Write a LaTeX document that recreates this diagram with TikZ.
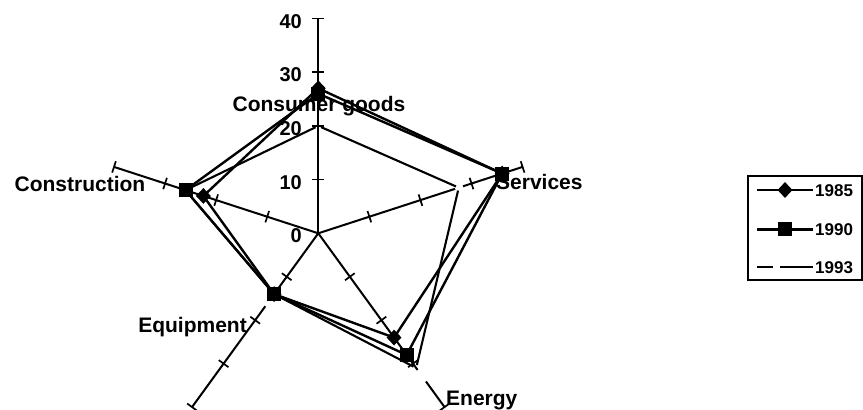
\documentclass[tikz,border=0pt]{standalone}
\usepackage{fontspec}
\setmainfont{Liberation Sans}
\usetikzlibrary{calc,shapes.geometric}
\begin{document}
\begin{tikzpicture}[x=1pt,y=1pt,
  axis/.style={line width=2pt},
  tickmark/.style={line width=1.7pt},
  series/.style={line width=2.4pt, line join=miter},
  seriesc/.style={line width=2.1pt, shorten <=3pt, shorten >=3pt},
  gap/.style={white, line width=5pt},
  dmark/.style={diamond, fill=black, inner sep=0pt, minimum width=15pt, minimum height=16pt},
  smark/.style={rectangle, fill=black, inner sep=0pt, minimum size=14pt},
  catlabel/.style={font=\fontsize{21}{21}\selectfont\bfseries, inner sep=0pt},
  numlabel/.style={font=\fontsize{20}{20}\selectfont\bfseries, inner sep=0pt, anchor=base east},
  leglabel/.style={font=\fontsize{17}{17}\selectfont\bfseries, inner sep=0pt, anchor=base west},
]
\useasboundingbox (0,0) rectangle (863,410);
\def\s{5.37}
\coordinate (C) at (318.3,176.7);

% category labels
\node[catlabel, anchor=base] (lcg) at (319,298.3) {Consumer goods};
\node[catlabel, anchor=base west] (lsv) at (496,220) {Services};
\node[catlabel, anchor=base west] (len) at (446,5) {Energy};
\node[catlabel, anchor=base east] (leq) at (247,77.3) {Equipment};
\node[catlabel, anchor=base east] (lco) at (145.5,218.3) {Construction};

% scale numbers
\foreach \v in {0,10,20,30,40}
  \node[numlabel] (n\v) at (302,{176.7+\v*\s-9.6}) {\v};

% axes and ticks
\foreach \a/\n in {90/cg,18/sv,-54/en,-126/eq,162/co} {
  \coordinate (e-\n) at ($(C)+(\a:{40*\s})$);
  \draw[axis] (C) -- (e-\n);
  \foreach \v in {10,20,30,40} {
    \draw[tickmark] ($(C)+(\a:{\v*\s})+({\a+90}:6)$) -- ($(C)+(\a:{\v*\s})+({\a-90}:6)$);
  }
}
% breaks in the axes
\draw[gap] ($(C)+(18:144)$) -- ($(C)+(18:152)$);
\draw[gap] ($(C)+(-54:169)$) -- ($(C)+(-54:183)$);
\draw[gap] ($(C)+(-126:82)$) -- ($(C)+(-126:90)$);

% data points
\foreach \n/\a/\vA/\vB/\vC in {cg/90/27/26/20, sv/18/36/36/27.5, en/-54/24/28/31, eq/-126/14/14/14, co/162/22.5/26/26} {
  \coordinate (a-\n) at ($(C)+(\a:{\vA*\s})$);
  \coordinate (b-\n) at ($(C)+(\a:{\vB*\s})$);
  \coordinate (c-\n) at ($(C)+(\a:{\vC*\s})$);
}

% 1993
\draw[seriesc] (c-cg) -- (c-sv);
\draw[seriesc] (c-sv) -- (c-en);
\draw[seriesc] (c-en) -- (c-eq);
\draw[seriesc] (c-eq) -- (c-co);
\draw[seriesc] (c-co) -- (c-cg);
% 1985
\draw[series] (a-cg) -- (a-sv) -- (a-en) -- (a-eq) -- (a-co) -- cycle;
% 1990
\draw[series] (b-cg) -- (b-sv) -- (b-en) -- (b-eq) -- (b-co) -- cycle;

\foreach \n in {cg,sv,en,eq,co} \node[dmark] (da-\n) at (a-\n) {};
\foreach \n in {cg,sv,en,eq,co} \node[smark] (sb-\n) at (b-\n) {};

% legend
\node[draw, line width=1.6pt, inner sep=0pt, minimum width=114pt, minimum height=104pt] (legbox) at (805,182) {};
\coordinate (l1a) at (757,220); \coordinate (l1b) at (813,220);
\coordinate (l2a) at (757,180.5); \coordinate (l2b) at (813,180.5);
\coordinate (l3a) at (757,142.5); \coordinate (l3m) at (773,142.5);
\coordinate (l3n) at (780,142.5); \coordinate (l3b) at (813,142.5);
\draw[series] (l1a) -- (l1b);
\node[dmark] (lm1) at (785,220) {};
\node[leglabel] (t1) at (815,213.8) {1985};
\draw[series] (l2a) -- (l2b);
\node[smark] (lm2) at (785,180.5) {};
\node[leglabel] (t2) at (815,174.3) {1990};
\draw[line width=2pt] (l3a) -- (l3m);
\draw[line width=2pt] (l3n) -- (l3b);
\node[leglabel] (t3) at (815,136.3) {1993};
\end{tikzpicture}
\end{document}
